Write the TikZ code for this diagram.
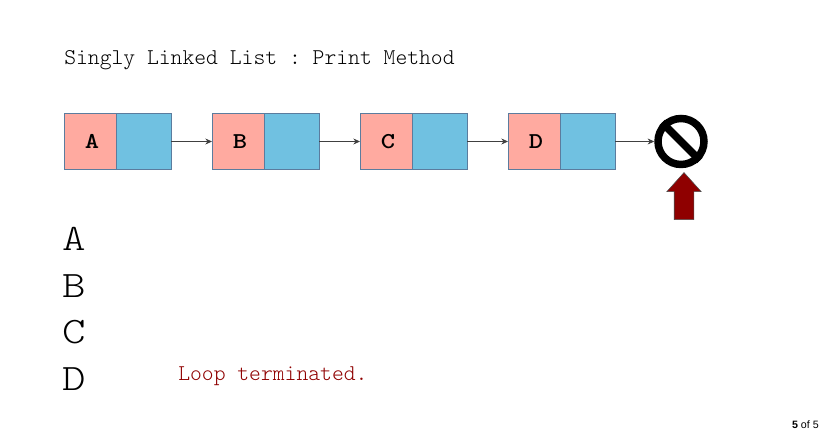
\documentclass[tikz,border=0pt]{standalone}
\usepackage{fontspec}
\setmainfont{Liberation Sans}
\setmonofont{Latin Modern Mono Light}
\newfontfamily\bigmono[FakeStretch=1.2]{Latin Modern Mono Light}
\usetikzlibrary{arrows.meta,positioning,shapes.arrows}
\definecolor{cellpink}{HTML}{FFAAA0}
\definecolor{cellblue}{HTML}{70C1E1}
\definecolor{celledge}{HTML}{5B7C9E}
\definecolor{arrowred}{HTML}{8F0000}
\tikzset{
  valbox/.style  ={draw=celledge, fill=cellpink, line width=0.75pt, minimum width=39pt,
                   minimum height=42pt, inner sep=0pt, outer sep=0pt,
                   font=\bigmono\bfseries\fontsize{17}{19}\selectfont},
  nextbox/.style ={valbox, fill=cellblue, minimum width=41.25pt},
  ar/.style      ={-{Stealth[length=5pt,width=4.5pt]}, draw=black!75, line width=0.6pt},
  stopsign/.style={circle, draw=black, line width=5.6pt, minimum size=34.5pt, inner sep=0pt},
  stopbar/.style ={draw=black, line width=5.6pt},
  upmark/.style  ={single arrow, draw=black!70, fill=arrowred, line width=0.4pt, rotate=90,
                   text height=14.25pt, text depth=0pt, minimum height=35.25pt,
                   single arrow head extend=5.6pt, single arrow tip angle=84, inner sep=0pt},
  titletxt/.style={anchor=base west, inner sep=0pt, font=\ttfamily\fontsize{16.9}{19}\selectfont},
  bigtxt/.style  ={anchor=base west, inner sep=0pt, font=\bigmono\fontsize{28}{30}\selectfont},
  looptxt/.style ={titletxt, text=arrowred},
  pagetxt/.style ={anchor=base east, inner sep=0pt, font=\fontsize{8}{10}\selectfont},
}
\begin{document}
\begin{tikzpicture}[x=0.75pt, y=-0.75pt, node distance=30.75pt]
\useasboundingbox (0,0) rectangle (825,438);
\node[titletxt] (title) at (64,64.5) {Singly Linked List : Print Method};
% list cells
\node[valbox, anchor=north west] (va) at (64,113.5) {\hspace*{3pt}A};
\node[nextbox, right=0pt of va] (na) {};
\node[valbox, right=of na] (vb) {\hspace*{3pt}B};
\node[nextbox, right=0pt of vb] (nb) {};
\node[valbox, right=of nb] (vc) {\hspace*{3pt}C};
\node[nextbox, right=0pt of vc] (nc) {};
\node[valbox, right=of nc] (vd) {\hspace*{3pt}D};
\node[nextbox, right=0pt of vd] (nd) {};
\node[stopsign] (stop) at (681,141.5) {};
\draw[stopbar] (stop.north west) -- (stop.south east);
\node[upmark] (ptr) at (684,201.5) {};
\draw[ar] (na.east) -- (vb.west);
\draw[ar] (nb.east) -- (vc.west);
\draw[ar] (nc.east) -- (vd.west);
\draw[ar] (nd.east) -- (stop.west);
% printed output
\node[bigtxt] (outa) at (62,251) {A};
\node[bigtxt] (outb) at (62,298) {B};
\node[bigtxt] (outc) at (62,344) {C};
\node[bigtxt] (outd) at (62,391) {D};
\node[looptxt] (done) at (178,381) {Loop terminated.};
\node[pagetxt] (page) at (819,428) {\textbf{5} of 5};
\end{tikzpicture}
\end{document}
